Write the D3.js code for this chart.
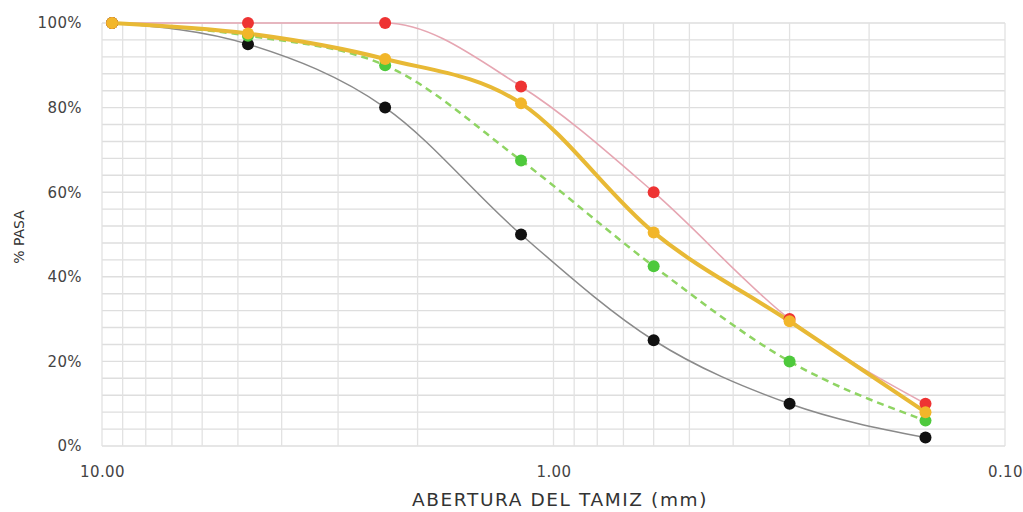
<!DOCTYPE html>
<html>
<head>
<meta charset="utf-8">
<script src="https://cdn.jsdelivr.net/npm/d3@7"></script>
<style>
  body { margin: 0; background: #fff; }
  text { font-family: "DejaVu Sans", sans-serif; }
</style>
</head>
<body>
<div id="chart"></div>
<script>
// sieve openings (mm) and % passing for each curve
var sieves = [9.5, 4.75, 2.36, 1.18, 0.6, 0.3, 0.15];
var redPasa = [100, 100, 100, 85, 60, 30, 10];
var yellowPasa = [100, 97.5, 91.5, 81, 50.5, 29.5, 8];
var greenPasa = [100, 97, 90, 67.5, 42.5, 20, 6];
var blackPasa = [100, 95, 80, 50, 25, 10, 2];
var xTicks = [10, 1, 0.1];
var yTicks = [0, 20, 40, 60, 80, 100];

var margin = { top: 23, right: 18, bottom: 66, left: 102 },
  width = 1023 - margin.left - margin.right,
  height = 512 - margin.top - margin.bottom;

var svg = d3.select("#chart")
  .append("svg")
  .attr("width", 1023)
  .attr("height", 512)
  .append("g")
  .attr("transform", "translate(" + margin.left + "," + margin.top + ")");

var x = d3.scaleLog()
  .domain([10, 0.1])
  .range([0, width]);

var y = d3.scaleLinear()
  .domain([0, 100])
  .range([height, 0]);

// grid
var hLines = d3.range(0, 101, 4);
svg.append("g")
  .selectAll("line")
  .data(hLines)
  .enter()
  .append("line")
  .attr("x1", 0)
  .attr("x2", width)
  .attr("y1", function (d) { return y(d); })
  .attr("y2", function (d) { return y(d); })
  .style("stroke", "#dedede")
  .style("stroke-width", 1.4);

var vLines = x.ticks();
svg.append("g")
  .selectAll("line")
  .data(vLines)
  .enter()
  .append("line")
  .attr("x1", function (d) { return x(d); })
  .attr("x2", function (d) { return x(d); })
  .attr("y1", 0)
  .attr("y2", height)
  .style("stroke", "#e2e2e2")
  .style("stroke-width", 1.3);

// axes
var xAxis = svg.append("g")
  .attr("transform", "translate(0," + height + ")")
  .call(d3.axisBottom(x).tickValues(xTicks).tickFormat(d3.format(".2f")).tickSize(0).tickPadding(20));
xAxis.select(".domain").remove();
xAxis.selectAll("text").style("font-size", "15px").style("letter-spacing", "0.4px").style("fill", "#444");

var yAxis = svg.append("g")
  .call(d3.axisLeft(y).tickValues(yTicks).tickFormat(function (d) { return d + "%"; }).tickSize(0).tickPadding(20));
yAxis.select(".domain").remove();
yAxis.selectAll("text").style("font-size", "15px").style("letter-spacing", "0.4px").style("fill", "#444");

svg.append("text")
  .attr("text-anchor", "middle")
  .attr("x", 458)
  .attr("y", height + 60)
  .text("ABERTURA DEL TAMIZ (mm)")
  .style("font-size", "18.5px")
  .style("letter-spacing", "1.6px")
  .style("fill", "#333");

svg.append("text")
  .attr("text-anchor", "middle")
  .attr("transform", "rotate(-90)")
  .attr("x", -214)
  .attr("y", -78)
  .text("% PASA")
  .style("font-size", "14px")
  .style("fill", "#333");

// curves
var series = [
  { name: "negro", values: blackPasa, line: "#8a8a8a", lw: 1.5, dash: null, dot: "#111111" },
  { name: "verde", values: greenPasa, line: "#8fd463", lw: 2.5, dash: "7,5", dot: "#4ec93c" },
  { name: "rojo", values: redPasa, line: "#e6a6b2", lw: 1.6, dash: null, dot: "#ee3333" },
  { name: "amarillo", values: yellowPasa, line: "#e8b935", lw: 4, dash: null, dot: "#f2b62a" }
];

var line = d3.line()
  .x(function (d) { return x(d.s); })
  .y(function (d) { return y(d.v); })
  .curve(d3.curveMonotoneX);

series.forEach(function (s) {
  var pts = sieves.map(function (v, i) { return { s: v, v: s.values[i] }; });
  svg.append("path")
    .datum(pts)
    .attr("d", line)
    .style("fill", "none")
    .style("stroke", s.line)
    .style("stroke-width", s.lw)
    .style("stroke-dasharray", s.dash);
});

series.forEach(function (s) {
  var pts = sieves.map(function (v, i) { return { s: v, v: s.values[i] }; });
  svg.append("g")
    .selectAll("circle")
    .data(pts)
    .enter()
    .append("circle")
    .attr("cx", function (d) { return x(d.s); })
    .attr("cy", function (d) { return y(d.v); })
    .attr("r", 6)
    .style("fill", s.dot);
});
</script>
</body>
</html>
